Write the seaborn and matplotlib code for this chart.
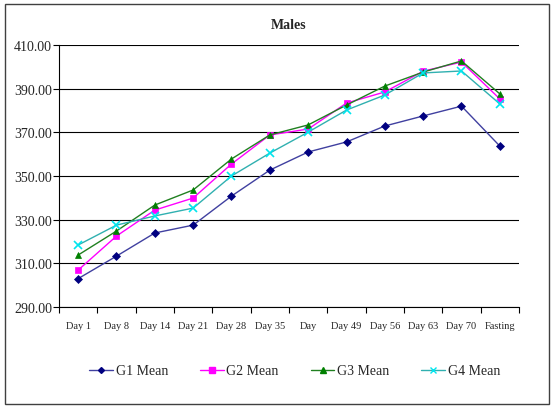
import matplotlib
matplotlib.use("Agg")
import matplotlib.pyplot as plt
import seaborn as sns
import pandas as pd
import numpy as np
from matplotlib.patches import Rectangle
from matplotlib.lines import Line2D
from matplotlib.ticker import FixedLocator, FormatStrFormatter

categories = ["Day 1", "Day 8", "Day 14", "Day 21", "Day 28", "Day 35", "Day 42",
              "Day 49", "Day 56", "Day 63", "Day 70", "Fasting"]
tick_labels = ["Day 1", "Day 8", "Day 14", "Day 21", "Day 28", "Day 35", "Day",
               "Day 49", "Day 56", "Day 63", "Day 70", "Fasting"]
g1 = [303.0, 313.3, 323.9, 327.5, 340.8, 352.7, 361.0, 365.6, 372.9, 377.5, 382.0, 363.7]
g2 = [306.9, 322.5, 334.4, 339.9, 355.5, 368.8, 371.5, 383.4, 388.5, 398.0, 402.2, 385.3]
g3 = [313.8, 324.8, 336.7, 343.6, 357.8, 368.8, 373.4, 382.5, 391.2, 397.6, 402.7, 387.6]
g4 = [318.4, 327.5, 331.7, 335.3, 350.0, 360.5, 370.1, 380.2, 387.1, 397.2, 398.1, 383.0]
series_names = ["G1 Mean", "G2 Mean", "G3 Mean", "G4 Mean"]

sns.set_theme(style="white")
plt.rcParams['font.family'] = ['Liberation Serif', 'DejaVu Serif']

rows = []
for name, vals in zip(series_names, [g1, g2, g3, g4]):
    for i, (c, v) in enumerate(zip(categories, vals)):
        rows.append({"pos": i, "cat": c, "value": v, "series": name})
df = pd.DataFrame(rows)

colors = {"G1 Mean": "#000080", "G2 Mean": "#FF00FF", "G3 Mean": "#008000", "G4 Mean": "#00E5EE"}
line_colors = {"G1 Mean": "#4040A0", "G2 Mean": "#FF00FF", "G3 Mean": "#208020", "G4 Mean": "#30B0B0"}
markers = {"G1 Mean": "D", "G2 Mean": "s", "G3 Mean": "^", "G4 Mean": "x"}
msizes = {"G1 Mean": 4, "G2 Mean": 5, "G3 Mean": 5, "G4 Mean": 6}

fig = plt.figure(figsize=(5.52, 4.10), dpi=100)
ax = fig.add_axes([59/552, 1-308/410, 460/552, 262/410])

for name in series_names:
    sub = df[df.series == name]
    sns.lineplot(data=sub, x="pos", y="value", ax=ax, color=line_colors[name],
                 marker=markers[name], markersize=msizes[name],
                 markerfacecolor=colors[name], markeredgecolor=colors[name],
                 markeredgewidth=1.2 if name == "G4 Mean" else 0.5,
                 linewidth=1.0, label=name, sort=False, legend=False)

ax.set_xlim(-0.5, 11.5)
ax.set_ylim(290, 410)
ax.yaxis.set_major_locator(FixedLocator(np.arange(290, 411, 20)))
ax.yaxis.set_major_formatter(FormatStrFormatter("%.2f"))
ax.grid(axis="y", color="black", linewidth=0.8)
ax.set_xticks(np.arange(-0.5, 12, 1))
ax.set_xticklabels([])
ax.set_xticks(np.arange(12), minor=True)
ax.set_xticklabels(tick_labels, minor=True, fontsize=7.5)
ax.tick_params(axis="x", which="major", direction="out", length=4, width=0.8, color="black", bottom=True)
ax.tick_params(axis="x", which="minor", length=0, pad=10)
ax.tick_params(axis="y", direction="out", length=4, width=0.8, color="black", left=True, labelsize=10, pad=1)
ax.set_xlabel("")
ax.set_ylabel("")
for s in ["top", "right"]:
    ax.spines[s].set_visible(False)
for s in ["left", "bottom"]:
    ax.spines[s].set_color("black")
    ax.spines[s].set_linewidth(0.8)

ax.set_title("Males", fontsize=10, fontweight="bold", pad=12)

handles = []
for name in series_names:
    handles.append(Line2D([0], [0], color=line_colors[name], marker=markers[name],
                          markersize=msizes[name] - 1, markerfacecolor=colors[name],
                          markeredgecolor=colors[name], linewidth=1.0))
fig.legend(handles, series_names, loc="center", bbox_to_anchor=(0.534, 1-372/410), ncol=4,
           frameon=False, fontsize=10, columnspacing=2.3, handlelength=1.7, handletextpad=0.2)

fig.patches.append(Rectangle((5/552, 5/410), 544/552, 400/410, transform=fig.transFigure,
                             fill=False, edgecolor="#404040", linewidth=1.0))

fig.savefig("out.png", dpi=100)
